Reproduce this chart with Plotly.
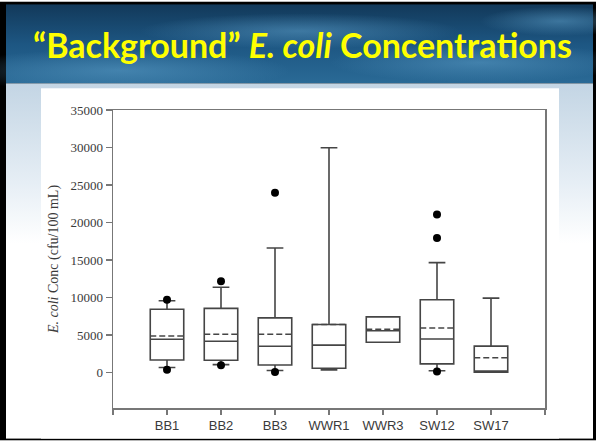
import base64
import plotly.graph_objects as go

# ---------------- data ----------------
categories = ["BB1", "BB2", "BB3", "WWR1", "WWR3", "SW12", "SW17"]
q1_vals = [1670, 1620, 1000, 570, 4030, 1140, 40]
median_vals = [4430, 4170, 3500, 3640, 5570, 4470, 60]
q3_vals = [8420, 8550, 7280, 6400, 7410, 9690, 3510]
mean_vals = [4870, 5090, 5090, 6400, 5750, 5920, 1970]
lower_whisker = [660, 1050, 260, 350, 4030, 220, 40]
upper_whisker = [9560, 11360, 16600, 29960, 7410, 14650, 9910]

outlier_cat = ["BB1", "BB1", "BB2", "BB2", "BB3", "BB3", "SW12", "SW12", "SW12"]
outlier_vals = [9690, 350, 12150, 950, 23950, 50, 21050, 17940, 130]

y_tick_vals = [0, 5000, 10000, 15000, 20000, 25000, 30000, 35000]
y_range = [-4740, 35000]

title_text = "“Background” <i>E. coli</i> Concentra\u200ctions"
y_title = "<i>E. coli</i> Conc (cfu/100 mL)"

# ---------------- layout geometry ----------------
W, H = 596, 445
ML, MR, MT, MB = 113, 51, 110, 33
PW, PH = W - ML - MR, H - MT - MB
BOX_W = 0.62

positions = list(range(len(categories)))
pos_of = {c: i for i, c in enumerate(categories)}

# background (slide) as an SVG image
svg = f"""<svg xmlns='http://www.w3.org/2000/svg' width='{W}' height='{H}' viewBox='0 0 {W} {H}'>
<defs>
<linearGradient id='hd' x1='0' y1='0' x2='0' y2='1'>
<stop offset='0' stop-color='#12395a'/>
<stop offset='0.5' stop-color='#1d5682'/>
<stop offset='1' stop-color='#2a6a96'/>
</linearGradient>
<radialGradient id='gl1' cx='0.5' cy='0.5' r='0.5'>
<stop offset='0' stop-color='#5b9cc6' stop-opacity='0.55'/>
<stop offset='1' stop-color='#5b9cc6' stop-opacity='0'/>
</radialGradient>
<linearGradient id='bd' x1='0' y1='0' x2='0' y2='1'>
<stop offset='0' stop-color='#c3d5e4'/>
<stop offset='0.28' stop-color='#e6eef5'/>
<stop offset='0.45' stop-color='#ffffff'/>
<stop offset='1' stop-color='#ffffff'/>
</linearGradient>
</defs>
<rect x='0' y='0' width='{W}' height='{H}' fill='#000'/>
<rect x='6' y='3' width='{W-9}' height='80' fill='url(#hd)'/>
<ellipse cx='120' cy='70' rx='170' ry='22' fill='url(#gl1)'/>
<ellipse cx='300' cy='30' rx='160' ry='18' fill='url(#gl1)'/>
<ellipse cx='480' cy='62' rx='150' ry='20' fill='url(#gl1)'/>
<ellipse cx='560' cy='20' rx='80' ry='15' fill='url(#gl1)'/>
<rect x='6' y='83' width='{W-9}' height='{H-85}' fill='url(#bd)'/>
<rect x='41' y='88' width='518' height='{H-90}' fill='#ffffff'/>
</svg>"""
svg_uri = "data:image/svg+xml;base64," + base64.b64encode(svg.encode("utf-8")).decode()

fig = go.Figure()

fig.add_trace(go.Box(
    x=positions,
    q1=q1_vals,
    median=median_vals,
    q3=q3_vals,
    lowerfence=lower_whisker,
    upperfence=upper_whisker,
    boxmean=False,
    boxpoints=False,
    width=BOX_W,
    whiskerwidth=0.5,
    fillcolor="rgba(255,255,255,0)",
    line=dict(color="#454545", width=1.6),
    showlegend=False,
    hoverinfo="skip",
))

# mean lines (dashed), spanning the box width
mean_x, mean_y = [], []
for p, m in zip(positions, mean_vals):
    mean_x += [p - BOX_W / 2, p + BOX_W / 2, None]
    mean_y += [m, m, None]
fig.add_trace(go.Scatter(
    x=mean_x, y=mean_y, mode="lines",
    line=dict(color="#454545", width=1.6, dash="6px,3px"),
    showlegend=False, hoverinfo="skip",
))

fig.add_trace(go.Scatter(
    x=[pos_of[c] for c in outlier_cat],
    y=outlier_vals,
    mode="markers",
    marker=dict(color="#000000", size=8, symbol="circle"),
    showlegend=False,
    hoverinfo="skip",
))

fig.add_layout_image(dict(
    source=svg_uri,
    xref="paper", yref="paper",
    x=-ML / PW, y=1 + MT / PH,
    sizex=W / PW, sizey=H / PH,
    xanchor="left", yanchor="top",
    sizing="stretch", layer="below",
))

fig.add_annotation(
    text=f"<b>{title_text}</b>",
    xref="paper", yref="paper",
    x=(302 - ML) / PW, y=(H - MB - 44) / PH,
    xanchor="center", yanchor="middle",
    showarrow=False,
    font=dict(family="Lato", size=34, color="#ffff00"),
)

axis_col = "#777777"
fig.update_layout(
    width=W, height=H,
    margin=dict(l=ML, r=MR, t=MT, b=MB),
    paper_bgcolor="white",
    plot_bgcolor="rgba(0,0,0,0)",
    xaxis=dict(
        range=[-1, len(categories)],
        tickvals=list(range(-1, len(categories) + 1)),
        ticktext=[""] + categories + [""],
        showgrid=False, zeroline=False,
        showline=True, mirror=True, linecolor=axis_col, linewidth=1.5,
        ticks="outside", ticklen=5, tickcolor=axis_col, tickwidth=1.5,
        tickfont=dict(family="Liberation Sans", size=13, color="#3a3a3a"),
    ),
    yaxis=dict(
        range=y_range,
        tickvals=y_tick_vals,
        ticktext=[str(v) for v in y_tick_vals],
        showgrid=False, zeroline=False,
        showline=True, mirror=True, linecolor=axis_col, linewidth=1.5,
        ticks="outside", ticklen=6, tickcolor=axis_col, tickwidth=1.5,
        tickfont=dict(family="Liberation Serif", size=13, color="#3a3a3a"),
        title=dict(text=y_title, standoff=8,
                   font=dict(family="Liberation Serif", size=14, color="#3a3a3a")),
    ),
)

fig.write_html(
    "out.html",
    config={"displayModeBar": False, "staticPlot": True},
    post_script="document.body.style.margin='0';document.body.style.overflow='hidden';",
)
